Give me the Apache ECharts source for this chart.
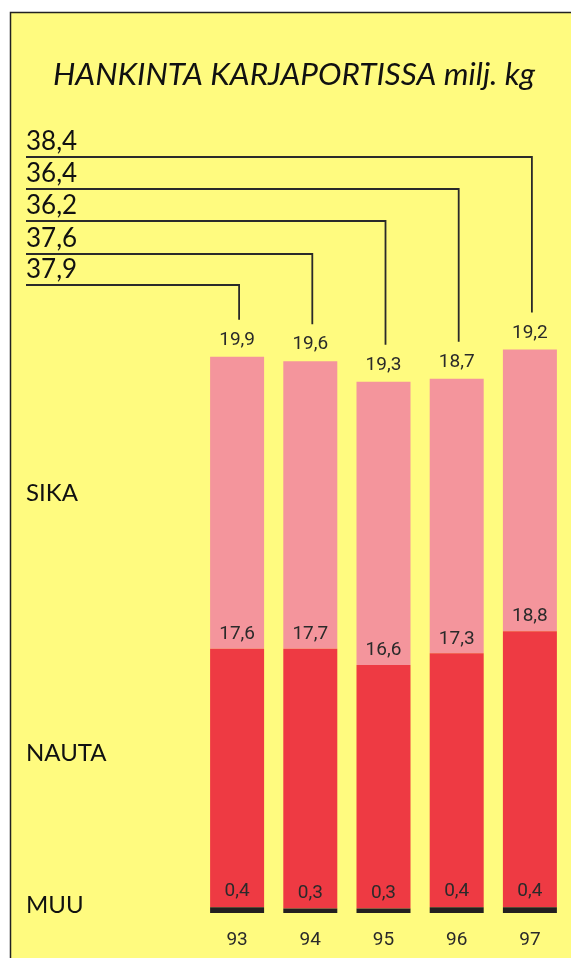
<!DOCTYPE html>
<html>
<head>
<meta charset="utf-8">
<script src="https://cdn.jsdelivr.net/npm/echarts@6/dist/echarts.min.js"></script>
<style>
html,body{margin:0;padding:0;background:#fff;}
#c{width:571px;height:958px;}
</style>
</head>
<body>
<div id="c"></div>
<script>
const years = ['93','94','95','96','97'];
const muu = [0.4, 0.3, 0.3, 0.4, 0.4];
const nauta = [17.6, 17.7, 16.6, 17.3, 18.8];
const sika = [19.9, 19.6, 19.3, 18.7, 19.2];
const totals = [37.9, 37.6, 36.2, 36.4, 38.4];
const seriesNames = ['MUU', 'NAUTA', 'SIKA'];

const fmt = v => String(v).replace('.', ',');
const numFont = "Roboto,'Liberation Sans',sans-serif";
const txtFont = "Lato,'Open Sans',sans-serif";

const chart = echarts.init(document.getElementById('c'), null, {renderer:'canvas'});

function valueLabel(dist){
  return {show:true, position:'top', distance:dist, color:'#2a2a2a', fontFamily:numFont, fontSize:19,
    formatter: p => fmt(p.value)};
}

const option = {
  backgroundColor:'#ffffff',
  animation:false,
  grid:{left:200.5, right:4.5, top:326, bottom:45},
  xAxis:{type:'category', data:years, axisLine:{show:false}, axisTick:{show:false},
    axisLabel:{color:'#2a2a2a', fontFamily:numFont, fontSize:19, margin:18}},
  yAxis:{type:'value', min:0, max:40, show:false, splitLine:{show:false}},
  series:[
    {name:'MUU', type:'bar', stack:'a', data:muu, barWidth:54, z:5,
      itemStyle:{color:'#231f20'}, label:valueLabel(6)},
    {name:'NAUTA', type:'bar', stack:'a', data:nauta, barWidth:54, z:4,
      itemStyle:{color:'#ee3a43'}, label:valueLabel(5)},
    {name:'SIKA', type:'bar', stack:'a', data:sika, barWidth:54, z:3,
      itemStyle:{color:'#f4959c'}, label:valueLabel(7)}
  ]
};
chart.setOption(option);

// decorations & leader lines computed from the scales
const lineYs = [285, 254, 221, 189, 157];
const g = [];
g.push({type:'rect', z:-10, shape:{x:10.5, y:12.5, width:700, height:1000},
  style:{fill:'#fffb7f', stroke:'#222', lineWidth:1.5}});
g.push({type:'text', z:10, style:{text:'HANKINTA KARJAPORTISSA milj. kg', x:294, y:75,
  textAlign:'center', textVerticalAlign:'middle', fontFamily:txtFont, fontStyle:'italic', fontSize:31.5, fill:'#111'}});
const catY = {SIKA:493, NAUTA:753, MUU:905};
seriesNames.forEach(n=>{
  g.push({type:'text', z:10, style:{text:n, x:26, y:catY[n], textAlign:'left', textVerticalAlign:'middle',
    fontFamily:txtFont, fontSize:24, fill:'#111'}});
});
years.forEach((y,i)=>{
  const p = chart.convertToPixel({gridIndex:0}, [i, totals[i]]);
  const ly = lineYs[i];
  const endY = p[1] - 37;
  g.push({type:'polyline', z:10, shape:{points:[[26, ly],[p[0]+2, ly],[p[0]+2, endY]]},
    style:{stroke:'#2a2a2a', lineWidth:1.8, fill:null}});
  g.push({type:'text', z:10, style:{text:fmt(totals[i]), x:26, y:ly-2, textAlign:'left', textVerticalAlign:'bottom',
    fontFamily:txtFont, fontSize:26, fill:'#111'}});
});
chart.setOption({graphic:{elements:g}});
</script>
</body>
</html>
